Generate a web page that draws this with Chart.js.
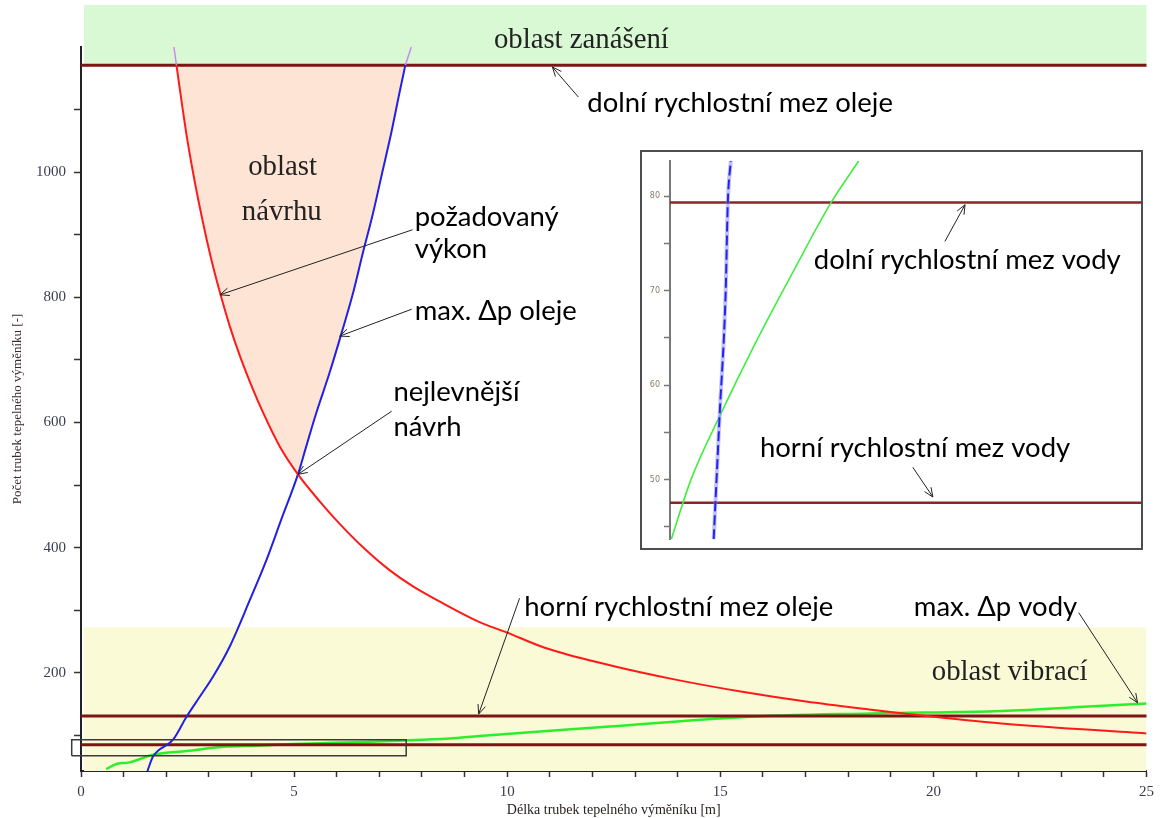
<!DOCTYPE html>
<html><head><meta charset="utf-8">
<script src="https://cdn.jsdelivr.net/npm/chart.js@4.4.0/dist/chart.umd.min.js"></script>
<style>
html,body{margin:0;padding:0;background:#fff;}
#wrap{position:relative;width:1160px;height:818px;overflow:hidden;}
#main{position:absolute;left:0;top:0;}
#insetBox{position:absolute;left:640px;top:150px;width:503px;height:400px;border:2px solid #4d4d4d;box-sizing:border-box;background:#fff;}
#inset{position:absolute;left:0;top:0;}
</style></head>
<body>
<div id="wrap">
<canvas id="main" width="1160" height="818"></canvas>
<div id="insetBox"><canvas id="inset" width="499" height="396"></canvas></div>
</div>
<script>
// ---------- data ----------
// x axis: délka trubek [m]
const xTickValues = [0,1,2,3,4,5,6,7,8,9,10,11,12,13,14,15,16,17,18,19,20,21,22,23,24,25];
const xTickLabels = [0,5,10,15,20,25];
// y axis: počet trubek [-]
const yTickValues = [100,200,300,400,500,600,700,800,900,1000,1100];
const yTickLabels = [200,400,600,800,1000];

// požadovaný výkon (red)
const reqX = [2.24,2.36,2.48,2.63,2.79,2.95,3.10,3.30,3.49,3.73,4.04,4.27,4.66,5.09,5.60,6.07,6.61,7.24,7.79,8.41,9.35,9.97,10.88,12.41,13.95,15.48,17.01,18.54,19.30,21.60,25.00];
const reqY = [1171,1113,1058,999,943,892,849,798,754,706,652,616,562,517,474,438,401,364,338,314,281,265,240,212,189,170,154,141,135,119,103];
const reqTipX = [2.18,2.24];
const reqTipY = [1200,1171];

// max. Δp oleje (blue)
const oilDpX = [1.56,1.58,1.69,2.16,2.48,2.79,3.10,3.49,3.96,4.35,4.70,5.09,5.29,5.52,5.83,6.11,6.38,6.61,6.85,7.08,7.28,7.47,7.61];
const oilDpY = [43,47,66,93,130,162,194,242,316,380,445,517,563,615,679,742,806,870,934,1003,1063,1126,1171];
const oilTipX = [7.61,7.75];
const oilTipY = [1171,1200];

// max. Δp vody (green)
const waterDpX = [0.59,0.87,1.07,1.69,2.48,3.41,4.12,5.01,5.91,7.47,8.65,9.35,12.41,15.48,18.54,21.60,23.64,25.00];
const waterDpY = [46,55,56,69,75,82,83.5,86,88,91.5,95,99,114,129,135,139,146,151];

// speed limits (horizontal lines)
const oilLowerLimit = 1171;   // dolní rychlostní mez oleje
const oilUpperLimit = 131;    // horní rychlostní mez oleje
const waterLine = 85;
const limitLines = [oilLowerLimit, oilUpperLimit, waterLine];

// regions
const foulingBand = [1171, 1267];   // oblast zanášení
const vibrationBand = [43, 272.5];  // oblast vibrací
const bandX = [0.07, 25];
const optimumX = 5.09;              // nejlevnější návrh

// zoom rectangle
const zoomRectX = [-0.218, 7.63];
const zoomRectY = [67.4, 93];

// inset
const insetYTickValues = [45,50,55,60,65,70,75,80];
const insetYTickLabels = [50,60,70,80];
const insetLines = [79.32, 47.56];
const insetWaterX = [1.503,1.549,1.618,1.700,1.790,1.876,1.941];
const insetWaterY = [43.7,50.0,56.9,64.5,72.2,79.3,83.73];
const insetOilX = [1.602,1.616,1.630,1.635,1.642];
const insetOilY = [43.7,56.9,69.8,79.3,83.73];

// ---------- helpers ----------
const zip = (xs, ys) => xs.map((x,i)=>({x, y: ys[i]}));
const SANS = 'Lato, "Open Sans", sans-serif';
const SERIF = '"Liberation Serif", "DejaVu Serif", serif';
const TICKFONT = '"Liberation Serif", serif';

const sansRef = {text:'horní rychlostní mez oleje', width:309};
const serifRef = {text:'oblast zanášení', width:175};

function fitSize(ctx, text, width, family){
  ctx.font = '100px ' + family;
  return 100 * width / ctx.measureText(text).width;
}
function arrow(ctx, x1,y1,x2,y2){
  ctx.beginPath(); ctx.moveTo(x1,y1); ctx.lineTo(x2,y2); ctx.stroke();
  const a = Math.atan2(y2-y1, x2-x1), L = 10, w = 0.4;
  ctx.beginPath();
  ctx.moveTo(x2 - L*Math.cos(a-w), y2 - L*Math.sin(a-w));
  ctx.lineTo(x2, y2);
  ctx.lineTo(x2 - L*Math.cos(a+w), y2 - L*Math.sin(a+w));
  ctx.stroke();
}
function annotPlugin(labels, arrows){
  return {
    id: 'annot',
    afterDatasetsDraw(chart){
      const {ctx} = chart; const sx = chart.scales.x, sy = chart.scales.y;
      ctx.save();
      const sansSize = fitSize(ctx, sansRef.text, sansRef.width, SANS);
      const serifSize = fitSize(ctx, serifRef.text, serifRef.width, SERIF);
      ctx.textBaseline = 'middle';
      labels.forEach(l => {
        ctx.font = (l.kind === 'serif' ? serifSize.toFixed(2) + 'px ' + SERIF : sansSize.toFixed(2) + 'px ' + SANS);
        ctx.fillStyle = l.kind === 'serif' ? '#222' : '#000';
        ctx.textAlign = l.align || 'left';
        ctx.fillText(l.t, sx.getPixelForValue(l.x), sy.getPixelForValue(l.y));
      });
      ctx.strokeStyle = '#222'; ctx.lineWidth = 1;
      arrows.forEach(a => arrow(ctx,
        sx.getPixelForValue(a.from[0]), sy.getPixelForValue(a.from[1]),
        sx.getPixelForValue(a.to[0]), sy.getPixelForValue(a.to[1])));
      ctx.restore();
    }
  };
}

// ---------- derived shapes ----------
const reqPts = zip(reqX, reqY);
const oilPts = zip(oilDpX, oilDpY);
const designPts = [
  ...reqPts.filter(p => p.x <= optimumX).reverse(),
  ...oilPts.filter(p => p.x >= optimumX).reverse()
];
const vibPts = [
  {x:bandX[0], y:vibrationBand[0]}, {x:bandX[1], y:vibrationBand[0]},
  {x:bandX[1], y:vibrationBand[1]}, {x:bandX[0], y:vibrationBand[1]}
];
const foulMid = (foulingBand[0] + foulingBand[1]) / 2;
const rectPts = [
  {x:zoomRectX[0], y:zoomRectY[0]}, {x:zoomRectX[1], y:zoomRectY[0]},
  {x:zoomRectX[1], y:zoomRectY[1]}, {x:zoomRectX[0], y:zoomRectY[1]},
  {x:zoomRectX[0], y:zoomRectY[0]}
];

const mainLabels = [
  {t:'oblast zanášení', x:11.74, y:1211, align:'center', kind:'serif'},
  {t:'dolní rychlostní mez oleje', x:11.88, y:1110, kind:'sans'},
  {t:'oblast', x:4.73, y:1008, align:'center', kind:'serif'},
  {t:'návrhu', x:4.71, y:935, align:'center', kind:'serif'},
  {t:'požadovaný', x:7.83, y:928, kind:'sans'},
  {t:'výkon', x:7.83, y:877, kind:'sans'},
  {t:'max. Δp oleje', x:7.83, y:778, kind:'sans'},
  {t:'nejlevnější', x:7.33, y:649, kind:'sans'},
  {t:'návrh', x:7.33, y:593, kind:'sans'},
  {t:'horní rychlostní mez oleje', x:10.40, y:305, kind:'sans'},
  {t:'max. Δp vody', x:19.54, y:305, kind:'sans'},
  {t:'oblast vibrací', x:21.79, y:201, align:'center', kind:'serif'}
];
const mainArrows = [
  {from:[11.67,1120], to:[11.06,1168]},
  {from:[7.78,908], to:[3.26,804]},
  {from:[7.76,781], to:[6.07,738]},
  {from:[7.29,618], to:[5.09,517]},
  {from:[10.29,319], to:[9.33,134]},
  {from:[23.41,296], to:[24.79,152]}
];
const insetLabels = [
  {t:'dolní rychlostní mez vody', x:1.836, y:73.18, kind:'sans'},
  {t:'horní rychlostní mez vody', x:1.710, y:53.34, kind:'sans'}
];
const insetArrows = [
  {from:[2.142,75.2], to:[2.189,79.08]},
  {from:[2.067,51.31], to:[2.114,48.16]}
];

const line = (data, color, width, order, extra) => Object.assign({
  data, showLine:true, borderColor:color, borderWidth:width, pointRadius:0,
  fill:false, order, tension:0
}, extra || {});
const smooth = {cubicInterpolationMode:'monotone'};

// ---------- main chart ----------
new Chart(document.getElementById('main'), {
  type: 'scatter',
  data: { datasets: [
    line(vibPts, 'rgba(0,0,0,0)', 0, 20, {fill:'shape', backgroundColor:'#fafad6'}),
    line([{x:bandX[0], y:foulMid},{x:bandX[1], y:foulMid}], '#d9f9d4', c => {
      const s = c.chart.scales.y;
      return s ? Math.abs(s.getPixelForValue(foulingBand[0]) - s.getPixelForValue(foulingBand[1])) : 0;
    }, 20, {clip:false, borderCapStyle:'butt'}),
    line(designPts, 'rgba(0,0,0,0)', 0, 19, {fill:'shape', backgroundColor:'#fde4d5'}),
    line(zip(waterDpX, waterDpY), '#2bef2b', 2.5, 6, smooth),
    ...limitLines.map(v => line([{x:0,y:v},{x:25,y:v}], '#7d1515', 3, 4, {clip:false})),
    line(reqPts, '#ff1a1a', 2, 3, smooth),
    line(oilPts, '#2121e6', 2, 3, smooth),
    line(zip(reqTipX, reqTipY), '#c98af0', 1.5, 3, {clip:false}),
    line(zip(oilTipX, oilTipY), '#c98af0', 1.5, 3, {clip:false}),
    line(rectPts, '#3a3a3a', 1.5, 1, {clip:false})
  ]},
  options: {
    responsive:false, animation:false, events:[],
    layout:{padding:{top:47, right:12, left:0, bottom:0}},
    plugins:{legend:{display:false}, tooltip:{enabled:false}},
    scales:{
      x:{
        type:'linear', min:0, max:25,
        afterBuildTicks: s => { s.ticks = xTickValues.map(v => ({value:v})); },
        afterFit: s => { s.height = 47; },
        ticks:{autoSkip:false, maxRotation:0, padding:6, color:'#3b3b4b',
          font:{family:TICKFONT, size:15},
          callback: v => xTickLabels.includes(v) ? String(v) : ''},
        grid:{drawOnChartArea:false, drawTicks:true, tickLength:6, tickColor:'#333', tickWidth:1.5},
        border:{color:'#222', width:2},
        title:{display:true, text:'Délka trubek tepelného výměníku [m]', color:'#2a2020',
          font:{family:TICKFONT, size:14, lineHeight:1.1}, padding:{top:0, bottom:0}}
      },
      y:{
        type:'linear', min:43, max:1200,
        afterBuildTicks: s => { s.ticks = yTickValues.map(v => ({value:v})); },
        afterFit: s => { s.width = 81; },
        ticks:{autoSkip:false, padding:8, color:'#3b3b55',
          font:{family:TICKFONT, size:15},
          callback: v => yTickLabels.includes(v) ? String(v) : ''},
        grid:{drawOnChartArea:false, drawTicks:true, tickLength:7, tickColor:'#333', tickWidth:1.5},
        border:{color:'#222', width:2},
        title:{display:true, text:'Počet trubek tepelného výměníku [-]', color:'#3a2a2a',
          font:{family:TICKFONT, size:13, lineHeight:1.2}, padding:{top:10, bottom:0}}
      }
    }
  },
  plugins:[annotPlugin(mainLabels, mainArrows)]
});

// ---------- inset chart ----------
new Chart(document.getElementById('inset'), {
  type:'scatter',
  data:{ datasets:[
    ...insetLines.map(v => line([{x:1.5,y:v},{x:2.6,y:v}], '#872727', 2.5, 5)),
    line(zip(insetWaterX, insetWaterY), '#3fef3f', 1.6, 3, smooth),
    line(zip(insetOilX, insetOilY), 'rgba(140,140,255,0.55)', 4, 2, smooth),
    line(zip(insetOilX, insetOilY), '#2323ee', 2, 1, Object.assign({borderDash:[10,4]}, smooth))
  ]},
  options:{
    responsive:false, animation:false, events:[],
    layout:{padding:{top:1, bottom:1, left:0, right:0}},
    plugins:{legend:{display:false}, tooltip:{enabled:false}},
    scales:{
      x:{type:'linear', min:1.5, max:2.6, display:false},
      y:{
        type:'linear', min:43.7, max:83.73,
        afterBuildTicks: s => { s.ticks = insetYTickValues.map(v => ({value:v})); },
        afterFit: s => { s.width = 28; },
        ticks:{autoSkip:false, padding:4, color:'#8a7a6a',
          font:{family:'"DejaVu Sans", sans-serif', size:8},
          callback: v => insetYTickLabels.includes(v) ? String(v) : ''},
        grid:{drawOnChartArea:false, drawTicks:true, tickLength:6, tickColor:'#777', tickWidth:1.5},
        border:{color:'#777', width:2}
      }
    }
  },
  plugins:[annotPlugin(insetLabels, insetArrows)]
});
</script>
</body></html>
